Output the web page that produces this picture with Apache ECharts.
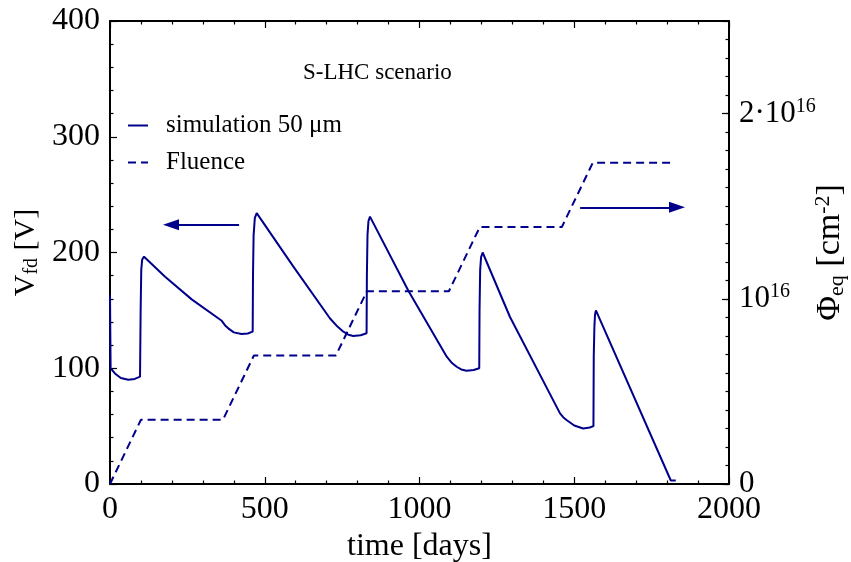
<!DOCTYPE html>
<html>
<head>
<meta charset="utf-8">
<script src="https://cdn.jsdelivr.net/npm/echarts@6/dist/echarts.min.js"></script>
<style>html,body{margin:0;padding:0;background:#fff}#c{width:851px;height:562px}</style>
</head>
<body>
<div id="c"></div>
<script>
// V_fd simulation [days, V]
const vfdData = [
 [0,163],[2,100],[16,95.5],[35,91.5],[59,90],[80,90.8],[97,92.7],[99,150],[101,185],[104,194],[110,196.4],
 [178,179],[264,159.5],[361,141],[372,137],[382,134.5],[400,131],[425,129.6],[445,130],[461,131.6],
 [462,180],[464,215],[468,230],[474,234],[592,188],[711,143],[735,136],[754,131.6],[770,129],[786,127.9],
 [810,128.5],[829,130.2],[830,180],[832,215],[835,227],[840,231],[964,167],[1088,110],[1105,104.5],
 [1120,101.3],[1135,99],[1152,97.9],[1175,98.5],[1193,100],[1194,150],[1196,185],[1199,196],[1204,200],
 [1292,144.5],[1454,61],[1465,57.5],[1475,55.3],[1500,50.5],[1529,48],[1550,48.8],[1562,50],
 [1563,110],[1565,135],[1567,146],[1570,150],[1812,3],[1828,3]
];
// Fluence [days, 1e16 cm^-2]
const fluenceData = [
 [0,0],[100,0.347],[365,0.347],[465,0.694],[730,0.694],[830,1.041],[1095,1.041],
 [1195,1.388],[1460,1.388],[1560,1.735],[1825,1.735]
];
const xTicks = [0,500,1000,1500,2000];
const leftTicks = [0,100,200,300,400];
const rightTickLabels = {0:'{a|0}', 1:'{a|10}{s|16}', 2:'{a|2·10}{s|16}'};
// arrows [day, V]
const leftArrow = [[417,224],[197,224]];
const rightArrow = [[1519,239],[1832,239]];

const FONT = 'Liberation Serif';
const C = '#00008b';
const chart = echarts.init(document.getElementById('c'));
const tickBase = {inside:true, length:7, lineStyle:{color:'#000', width:1.2}};
const minorBase = {show:true, splitNumber:5, length:3.5, lineStyle:{color:'#000', width:1.2}};
const axisLineBase = {show:true, onZero:false, lineStyle:{color:'#000', width:2}};
chart.setOption({
  animation:false,
  backgroundColor:'#fff',
  title:{text:'S-LHC scenario', left:303, top:61, padding:0, textStyle:{fontFamily:FONT, fontSize:23, fontWeight:'normal', color:'#000'}},
  legend:{
    orient:'vertical', left:127, top:113, padding:0, itemWidth:20, itemHeight:12, itemGap:12,
    itemStyle:{opacity:0},
    textStyle:{fontFamily:FONT, fontSize:25, color:'#000', padding:[0,0,0,13]},
    data:['simulation 50 μm','Fluence']
  },
  grid:{left:110, right:122, top:21, bottom:78, outerBoundsMode:'none', containLabel:false},
  xAxis:[{
    type:'value', min:xTicks[0], max:xTicks[xTicks.length-1], interval:500,
    axisLine:axisLineBase, axisTick:tickBase, minorTick:minorBase, splitLine:{show:false},
    axisLabel:{fontFamily:FONT, fontSize:32, color:'#000', margin:10, formatter:function(v){return String(v);}},
    name:'time [days]', nameLocation:'middle', nameGap:47, nameMoveOverlap:false,
    nameTextStyle:{fontFamily:FONT, fontSize:32, color:'#000'}
  },{
    type:'value', position:'top', min:0, max:2000, interval:500,
    axisLine:axisLineBase, axisTick:tickBase, minorTick:minorBase, splitLine:{show:false},
    axisLabel:{show:false}
  }],
  yAxis:[{
    type:'value', min:leftTicks[0], max:leftTicks[leftTicks.length-1], interval:100,
    axisLine:axisLineBase, axisTick:tickBase, minorTick:minorBase, splitLine:{show:false},
    axisLabel:{fontFamily:FONT, fontSize:32, color:'#000', margin:10, formatter:function(v){return String(v);}},
    name:'{a|V}{b|fd}{a| [V]}', nameLocation:'middle', nameRotate:90, nameGap:68, nameMoveOverlap:false,
    nameTextStyle:{rich:{a:{fontFamily:FONT, fontSize:30, color:'#000'}, b:{fontFamily:FONT, fontSize:20, color:'#000', verticalAlign:'bottom', padding:[12,0,0,0]}}}
  },{
    type:'value', position:'right', min:0, max:2.5, interval:0.1,
    axisLine:axisLineBase, axisTick:{inside:true, length:3.5, lineStyle:{color:'#000', width:1.2}}, splitLine:{show:false},
    axisLabel:{margin:10, showMaxLabel:false, formatter:function(v){const r=Math.round(v); return Math.abs(v-r)<1e-6 && rightTickLabels[r] ? rightTickLabels[r] : '';},
      rich:{a:{fontFamily:FONT, fontSize:31, color:'#000'}, s:{fontFamily:FONT, fontSize:20, color:'#000', verticalAlign:'top', padding:[0,0,14,0]}}},
    name:'{a|Φ}{b|eq}{a| [cm}{s|-2}{a|]}', nameLocation:'middle', nameRotate:90, nameGap:83, nameMoveOverlap:false,
    nameTextStyle:{rich:{a:{fontFamily:FONT, fontSize:34, color:'#000'}, b:{fontFamily:FONT, fontSize:22, color:'#000', padding:[13,0,0,0]}, s:{fontFamily:FONT, fontSize:22, color:'#000', padding:[0,0,15,0]}}}
  },{
    type:'value', position:'right', min:0, max:2.5, interval:1,
    axisLine:{show:false, onZero:false}, axisTick:{inside:true, length:7, lineStyle:{color:'#000', width:1.2}}, splitLine:{show:false},
    axisLabel:{show:false}
  }],
  series:[{
    name:'simulation 50 μm', type:'line', data:vfdData, symbol:'none', xAxisIndex:0, yAxisIndex:0,
    lineStyle:{color:C, width:2}, itemStyle:{color:C},
    markLine:{silent:true, symbol:['none','triangle'], symbolSize:[11,16], animation:false,
      label:{show:false}, lineStyle:{color:C, width:2, type:'solid'},
      data:[[{coord:leftArrow[0]},{coord:leftArrow[1]}],[{coord:rightArrow[0]},{coord:rightArrow[1]}]]}
  },{
    name:'Fluence', type:'line', data:fluenceData, symbol:'none', xAxisIndex:0, yAxisIndex:1,
    lineStyle:{color:C, width:2, type:[8,5]}, itemStyle:{color:C}
  }]
});
</script>
</body>
</html>
